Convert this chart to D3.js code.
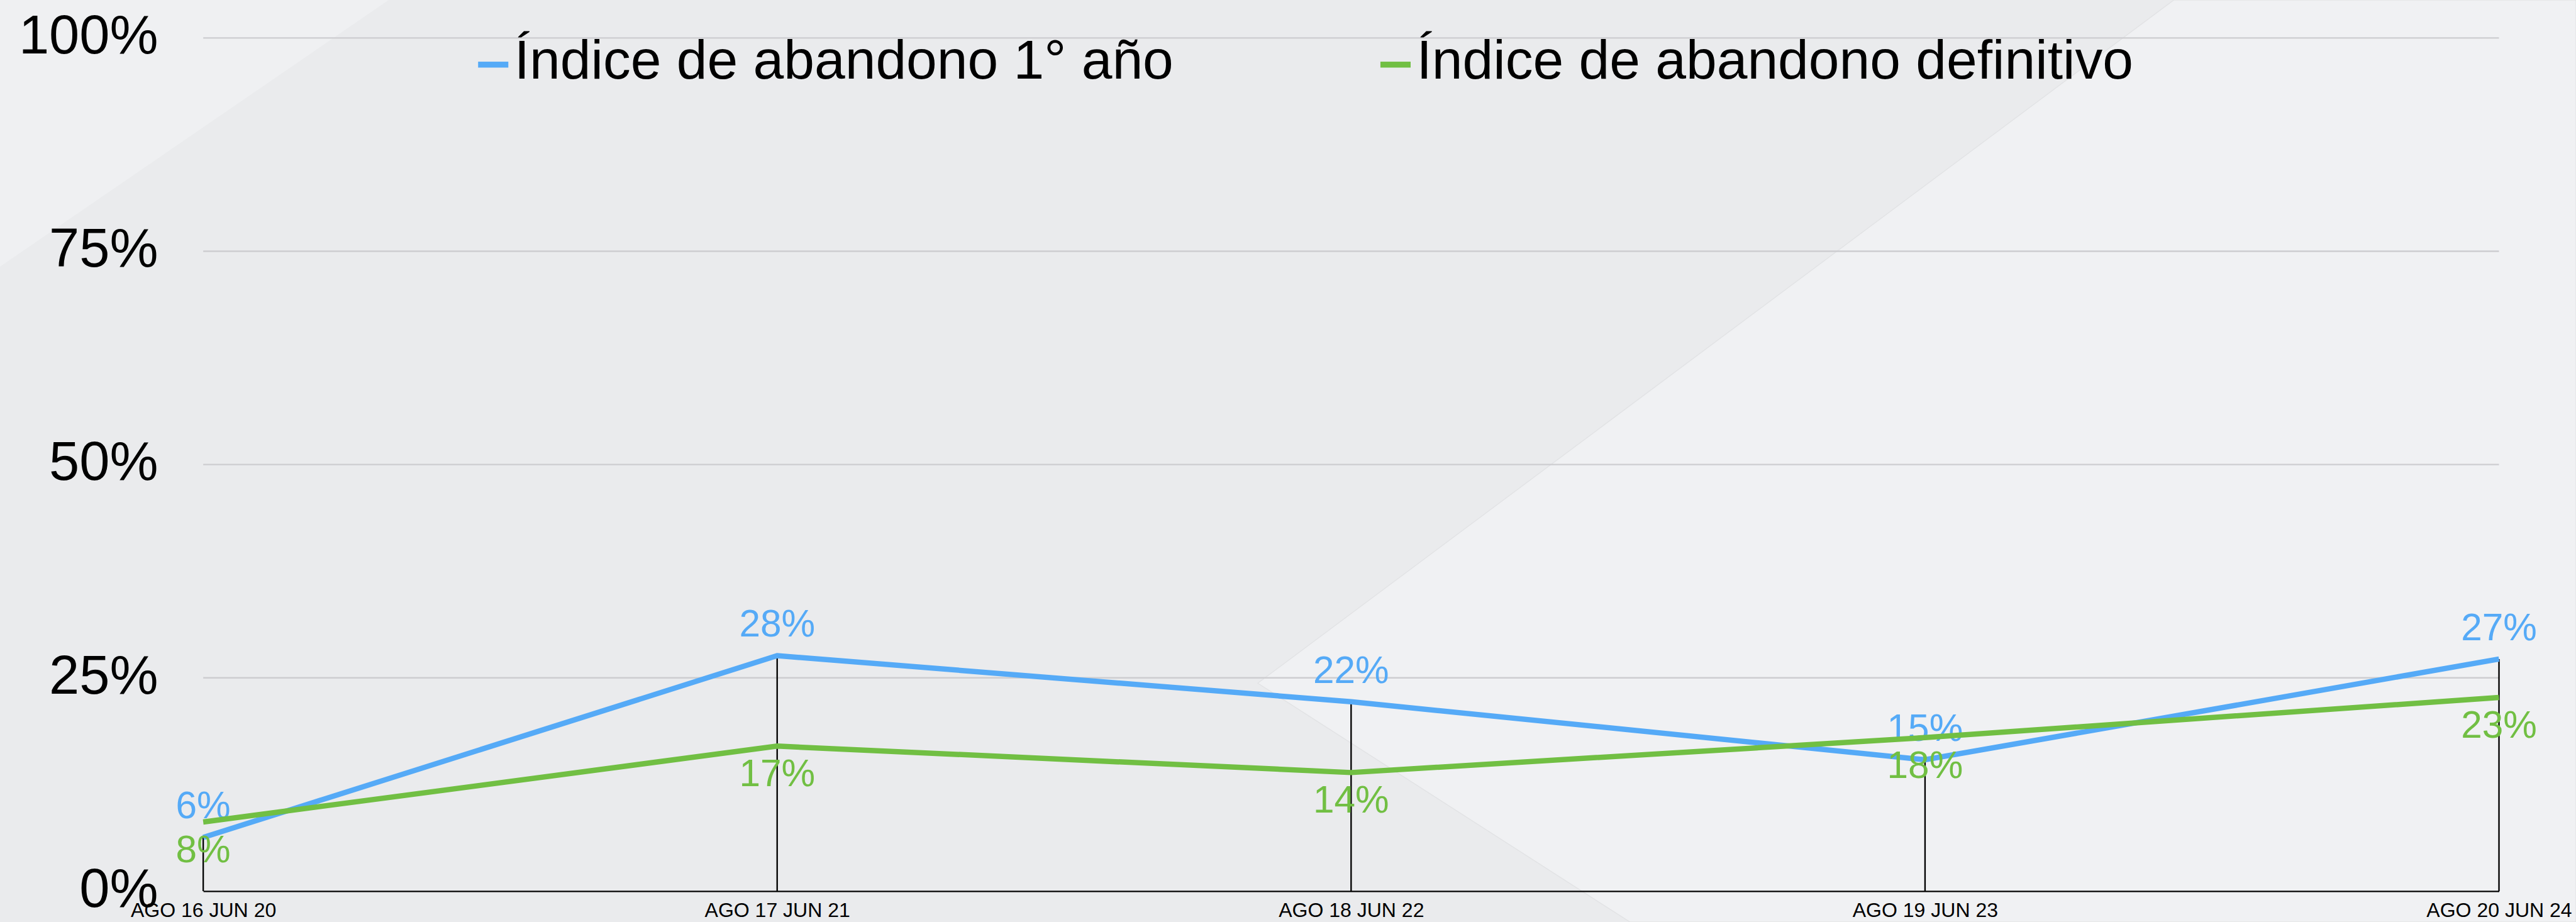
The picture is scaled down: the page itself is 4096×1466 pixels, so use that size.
<!DOCTYPE html>
<html>
<head>
<meta charset="utf-8">
<script src="https://cdn.jsdelivr.net/npm/d3@7"></script>
<style>
  html, body { margin: 0; padding: 0; background: #eaebed; overflow: hidden; }
  svg { display: block; font-family: "Liberation Sans", Arial, Helvetica, sans-serif; }
</style>
</head>
<body>
<div id="chart"></div>
<script>
// periods on the x axis
const periods = ["AGO 16 JUN 20", "AGO 17 JUN 21", "AGO 18 JUN 22", "AGO 19 JUN 23", "AGO 20 JUN 24"]

// series (fraction of students)
const firstYear = [0.063, 0.276, 0.222, 0.154, 0.272]
const definitive = [0.081, 0.170, 0.139, 0.180, 0.227]

const seriesNames = ["Índice de abandono 1° año", "Índice de abandono definitivo"]
const yTicks = [0, 0.25, 0.5, 0.75, 1]

// drawn in the reference's own units, the viewBox scales it to the window
const W = 4348, H = 1556
const margin = { top: 64, right: 130, bottom: 52, left: 343 }
const blue = "#55aaf7", green = "#71bf43"

const svg = d3.select("#chart")
    .append("svg")
        .attr("width", 4096)
        .attr("height", 1466)
        .attr("viewBox", `0 0 ${W} ${H}`)

// background panels
const bg = svg.append("g")
bg.append("rect").attr("width", W).attr("height", H).attr("fill", "#eaebed")
bg.append("path")
    .attr("d", "M0,0 L656,0 L0,450 Z")
    .attr("fill", "#eff0f2")
bg.append("path")
    .attr("d", "M3669,0 L4348,0 L4348,1556 L2751,1556 L2123,1153 Z")
    .attr("fill", "#f0f1f3")
    .attr("stroke", "#e2e3e5")
    .attr("stroke-width", 1.5)

const x = d3.scalePoint()
    .domain(periods)
    .range([margin.left, W - margin.right])

const y = d3.scaleLinear()
    .domain([0, 1])
    .range([H - margin.bottom, margin.top])

// grid
svg.append("g")
    .selectAll("line")
    .data(yTicks.filter(d => d > 0))
    .enter()
    .append("line")
        .attr("x1", margin.left)
        .attr("x2", W - margin.right)
        .attr("y1", d => y(d))
        .attr("y2", d => y(d))
        .attr("stroke", "#cdcdd0")
        .attr("stroke-width", 2.5)

// y axis labels
const yAxis = svg.append("g")
    .attr("transform", `translate(${margin.left},0)`)
    .call(d3.axisLeft(y).tickValues(yTicks).tickFormat(d3.format(".0%")).tickSize(0).tickPadding(76))
yAxis.select(".domain").remove()
yAxis.selectAll("text")
    .attr("font-size", 92)
    .attr("font-family", null)
    .attr("fill", "#000")
    .attr("dy", "0.28em")

// drop lines from the first-year points
svg.append("g")
    .selectAll("line")
    .data(periods)
    .enter()
    .append("line")
        .attr("x1", d => x(d))
        .attr("x2", d => x(d))
        .attr("y1", (d, i) => y(firstYear[i]))
        .attr("y2", y(0))
        .attr("stroke", "#000")
        .attr("stroke-width", 2.5)

// x axis
const xAxis = svg.append("g")
    .attr("transform", `translate(0,${y(0)})`)
    .call(d3.axisBottom(x).tickSize(0).tickPadding(44))
xAxis.select(".domain")
    .attr("stroke", "#000")
    .attr("stroke-width", 2.5)
xAxis.selectAll("text")
    .attr("font-size", 34)
    .attr("font-family", null)
    .attr("fill", "#000")
    .attr("dy", 0)

// lines
const line = d3.line()
    .x((d, i) => x(periods[i]))
    .y(d => y(d))

const series = [
    { name: seriesNames[0], values: firstYear, color: blue, dy: -32 },
    { name: seriesNames[1], values: definitive, color: green, dy: 68 }
]

series.forEach(s => {
    svg.append("path")
        .datum(s.values)
        .attr("d", line)
        .attr("fill", "none")
        .attr("stroke", s.color)
        .attr("stroke-width", 9)
        .attr("stroke-linejoin", "miter")

    svg.append("g")
        .selectAll("text")
        .data(s.values)
        .enter()
        .append("text")
            .attr("x", (d, i) => x(periods[i]))
            .attr("y", d => y(d) + s.dy)
            .attr("text-anchor", "middle")
            .attr("font-size", 64)
            .attr("fill", s.color)
            .text(d => Math.round(d * 100) + "%")
})

// legend
const legendX = [807, 2330]
const legend = svg.append("g")
    .selectAll("g")
    .data(series)
    .enter()
    .append("g")
        .attr("transform", (d, i) => `translate(${legendX[i]},0)`)
legend.append("rect")
    .attr("y", 104)
    .attr("width", 51)
    .attr("height", 10)
    .attr("fill", d => d.color)
legend.append("text")
    .attr("x", 61)
    .attr("y", 133)
    .attr("font-size", 93)
    .attr("fill", "#000")
    .text(d => d.name)
</script>
</body>
</html>
